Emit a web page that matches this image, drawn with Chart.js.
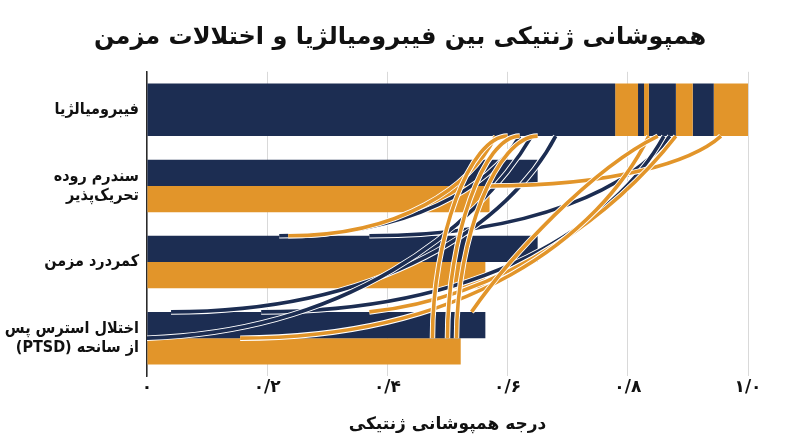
<!DOCTYPE html>
<html lang="fa">
<head>
<meta charset="utf-8">
<script src="https://cdn.jsdelivr.net/npm/chart.js@4.4.0/dist/chart.umd.min.js"></script>
<style>
  html, body { margin: 0; padding: 0; background: #fff; }
  #wrap { width: 800px; height: 447px; }
</style>
</head>
<body>
<div id="wrap"><canvas id="chart" dir="rtl"></canvas></div>
<script>
// categories (top to bottom)
const categories = [
    'فیبرومیالژیا',
    ['سندرم روده', 'تحریک‌پذیر'],
    'کمردرد مزمن',
    ['اختلال استرس پس', 'از سانحه (PTSD)']
];
const navyValues = [null, 0.65, 0.65, 0.563];
const orangeValues = [null, 0.57, 0.563, 0.522];
// fibromyalgia bar is split into alternating navy / orange bands
const fibBands = [0, 0.779, 0.817, 0.827, 0.835, 0.880, 0.908, 0.943, 1.0];
const xTickLabels = ['۰', '۰/۲', '۰/۴', '۰/۶', '۰/۸', '۱/۰'];

// links from the fibromyalgia bar down to the other bars
const linkFrom     = [0.62, 0.87, 0.68, 0.86, 0.64, 0.955, 0.88, 0.835, 0.85, 0.58, 0.60, 0.62, 0.65];
const linkTo       = [0.22, 0.37, 0.04, 0.19, 0.0,  0.57,  0.37, 0.155, 0.54, 0.235, 0.475, 0.50, 0.515];
const linkCategory = [2,    2,    3,    3,    3,    1,     3,    3,     3,    2,    3,     3,    3];
const linkBar      = [0,    0,    0,    0,    1,    1,     0,    1,     0,    0,    1,     1,    1];   // 0 = navy bar top, 1 = orange bar top
const linkSeries   = [0,    0,    0,    0,    0,    1,     1,    1,     1,    1,    1,     1,    1];   // 0 = navy, 1 = orange

const NAVY = '#1c2d52',
    ORANGE = '#e2952a',
    colors = [NAVY, ORANGE];

var datasets = [
    { data: navyValues, backgroundColor: NAVY },
    { data: orangeValues, backgroundColor: ORANGE }
];

for (var i = 0; i < fibBands.length - 1; i++) {
    datasets.push({
        data: [[fibBands[i], fibBands[i + 1]], null, null, null],
        backgroundColor: i % 2 == 0 ? NAVY : ORANGE,
        grouped: false
    });
}

const linksPlugin = {
    id: 'links',
    afterDatasetsDraw(chart) {
        var ctx = chart.ctx,
            xs = chart.scales.x,
            area = chart.chartArea,
            fibEl = chart.getDatasetMeta(2).data[0],
            y0 = fibEl.y + fibEl.height / 2;

        ctx.save();
        ctx.beginPath();
        ctx.rect(area.left, area.top, area.right - area.left, area.bottom - area.top);
        ctx.clip();
        ctx.lineCap = 'butt';
        linkFrom.forEach((from, k) => {
            var el = chart.getDatasetMeta(linkBar[k]).data[linkCategory[k]],
                x0 = xs.getPixelForValue(from),
                x1 = xs.getPixelForValue(linkTo[k]),
                y1 = el.y - el.height / 2,
                dx = x0 - x1,
                dy = y1 - y0,
                // steep links leave flat and arrive vertically, wide ones the other way round
                f = Math.max(0, Math.min(1, (dx / dy - 0.5) / 1.5));

            ctx.beginPath();
            ctx.moveTo(x0, y0);
            ctx.bezierCurveTo(x0 - dx * (0.5 - 0.38 * f), y0 + dy * 0.5 * f,
                              x1 + dx * 0.55 * f, y1 - dy * 0.5 * (1 - f),
                              x1, y1);
            ctx.lineWidth = 5.5;
            ctx.strokeStyle = '#fff';
            ctx.stroke();
            ctx.lineWidth = 3.6;
            ctx.strokeStyle = colors[linkSeries[k]];
            ctx.stroke();
        });
        ctx.restore();
    }
};

Chart.defaults.font.family = '"DejaVu Sans", sans-serif';
Chart.defaults.color = '#111';

new Chart(document.getElementById('chart'), {
    type: 'bar',
    data: { labels: categories, datasets: datasets },
    plugins: [linksPlugin],
    options: {
        indexAxis: 'y',
        responsive: true,
        maintainAspectRatio: false,
        animation: false,
        categoryPercentage: 0.69,
        barPercentage: 1.0,
        layout: { padding: { left: 0, right: 0, bottom: 12 } },
        plugins: {
            legend: { display: false },
            tooltip: { enabled: false },
            title: {
                display: true,
                text: 'همپوشانی ژنتیکی بین فیبرومیالژیا و اختلالات مزمن',
                font: { size: 24, weight: 'bold' },
                color: '#111',
                padding: { top: 23, bottom: 20 }
            }
        },
        scales: {
            x: {
                min: 0,
                max: 1,
                ticks: {
                    stepSize: 0.2,
                    padding: 1,
                    font: { size: 17, weight: 'bold' },
                    callback: (v) => xTickLabels[Math.round(v / 0.2)]
                },
                grid: { color: '#d9d9d9', drawTicks: false },
                border: { display: false },
                title: {
                    display: true,
                    text: 'درجه همپوشانی ژنتیکی',
                    font: { size: 17, weight: 'bold' },
                    padding: { top: 16, bottom: 0 }
                }
            },
            y: {
                ticks: {
                    padding: 8,
                    font: { family: '"DejaVu Sans Condensed", "DejaVu Sans", sans-serif', size: 16, weight: 'bold' }
                },
                grid: { display: false, drawTicks: false },
                border: { display: true, color: '#2a2a2a', width: 1.5 },
                afterFit: (scale) => { scale.width = 147; }
            },
            // empty right-hand axis, only reserves the white margin
            yRight: {
                type: 'linear',
                position: 'right',
                ticks: { display: false },
                grid: { display: false, drawTicks: false },
                border: { display: false },
                afterFit: (scale) => { scale.width = 52; }
            }
        }
    }
});
</script>
</body>
</html>
